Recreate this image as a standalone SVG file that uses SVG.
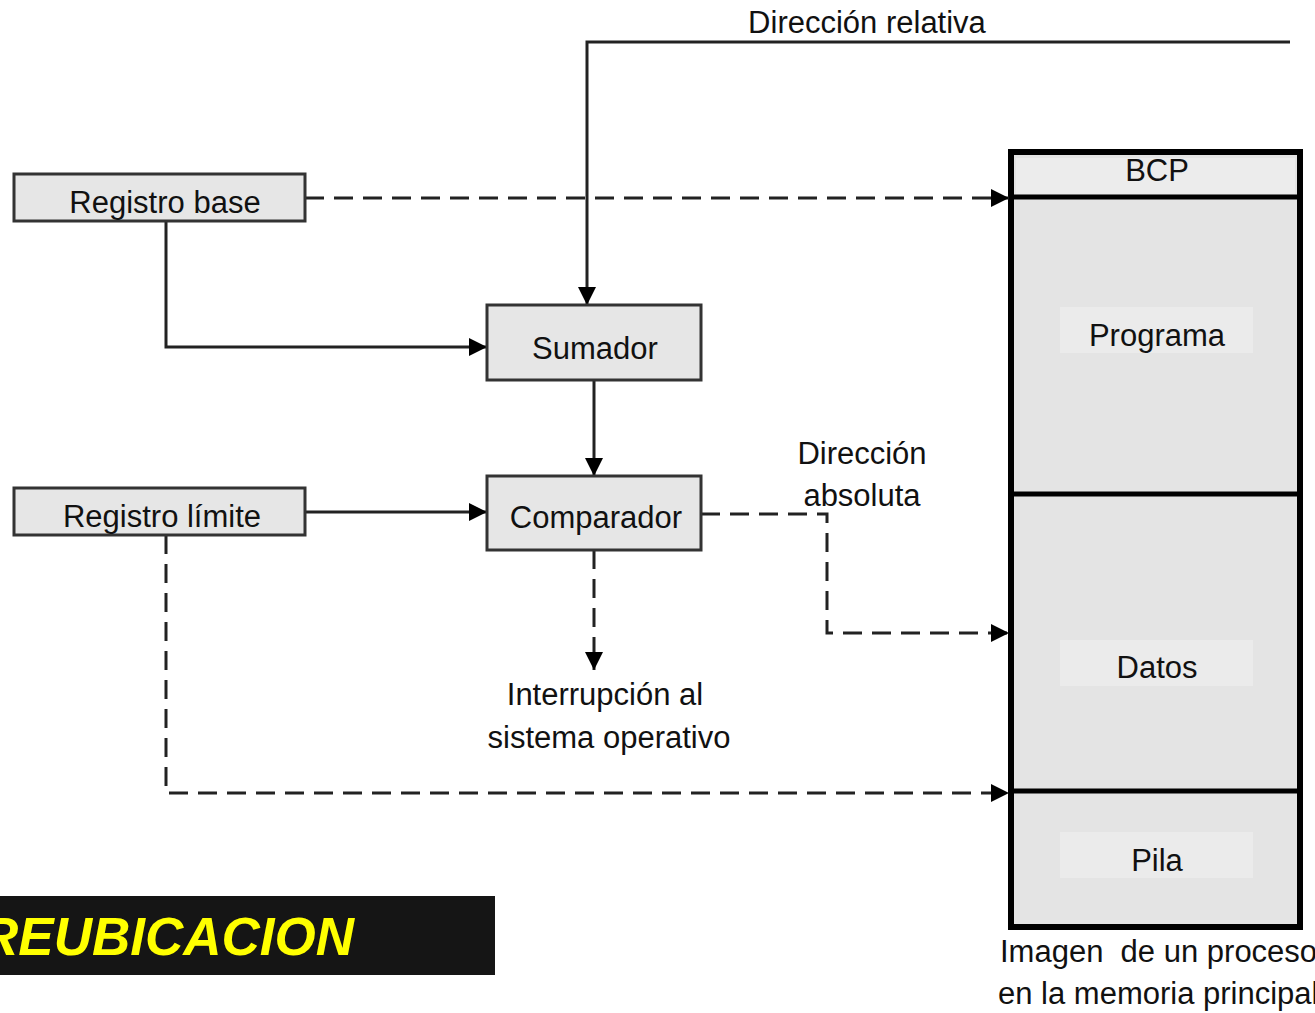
<svg xmlns="http://www.w3.org/2000/svg" width="1315" height="1013" viewBox="0 0 1315 1013">
<style>
  .node { fill: #e6e6e6; stroke: #333; stroke-width: 3; }
  .lbl { font-family: "Liberation Sans", Arial, sans-serif; font-size: 31px; fill: #111; text-anchor: middle; }
  .lblL { font-family: "Liberation Sans", Arial, sans-serif; font-size: 31px; fill: #111; }
  .solid { fill: none; stroke: #222; stroke-width: 3; }
  .dash { fill: none; stroke: #222; stroke-width: 3; stroke-dasharray: 19 10; }
  .mem { fill: #e4e4e4; stroke: #000; stroke-width: 6; }
  .div { stroke: #000; stroke-width: 5; }
  .pad { fill: #ebebeb; }
</style>
<defs>
  <marker id="arr" viewBox="0 0 18 18" refX="18" refY="9" markerWidth="18" markerHeight="18" markerUnits="userSpaceOnUse" orient="auto">
    <path d="M0,0 L18,9 L0,18 z" fill="#000"/>
  </marker>
</defs>
<rect width="1315" height="1013" fill="#fff"/>

<g id="memoria">
  <rect class="mem" x="1011" y="152" width="289" height="775"/>
  <rect x="1016" y="158" width="279" height="36" fill="#ececec"/>
  <line class="div" x1="1011" y1="197" x2="1300" y2="197"/>
  <line class="div" x1="1011" y1="494" x2="1300" y2="494"/>
  <line class="div" x1="1011" y1="791" x2="1300" y2="791"/>
  <rect class="pad" x="1060" y="307" width="193" height="46"/>
  <rect class="pad" x="1060" y="640" width="193" height="46"/>
  <rect class="pad" x="1060" y="832" width="193" height="46"/>
  <text class="lbl" x="1157" y="181">BCP</text>
  <text class="lbl" x="1157" y="346">Programa</text>
  <text class="lbl" x="1157" y="678">Datos</text>
  <text class="lbl" x="1157" y="871">Pila</text>
</g>

<g id="connectors">
  <path class="solid" d="M1290,42 L587,42 L587,305" marker-end="url(#arr)"/>
  <path class="solid" d="M166,221 L166,347 L487,347" marker-end="url(#arr)"/>
  <path class="dash" d="M305,198 L1009,198" marker-end="url(#arr)"/>
  <path class="solid" d="M594,380 L594,476" marker-end="url(#arr)"/>
  <path class="solid" d="M305,512 L487,512" marker-end="url(#arr)"/>
  <path class="dash" d="M701,514 L827,514 L827,633 L1009,633" marker-end="url(#arr)"/>
  <path class="dash" d="M594,550 L594,670" marker-end="url(#arr)"/>
  <path class="dash" d="M166,535 L166,793 L1009,793" marker-end="url(#arr)"/>
</g>

<g id="registro-base">
  <rect class="node" x="14" y="174" width="291" height="47"/>
  <text class="lbl" x="165" y="213">Registro base</text>
</g>
<g id="registro-limite">
  <rect class="node" x="14" y="488" width="291" height="47"/>
  <text class="lbl" x="162" y="527">Registro límite</text>
</g>
<g id="sumador">
  <rect class="node" x="487" y="305" width="214" height="75"/>
  <text class="lbl" x="595" y="359">Sumador</text>
</g>
<g id="comparador">
  <rect class="node" x="487" y="476" width="214" height="74"/>
  <text class="lbl" x="596" y="528">Comparador</text>
</g>

<g id="labels">
  <text class="lbl" x="867" y="33">Dirección relativa</text>
  <text class="lbl" x="862" y="464">Dirección</text>
  <text class="lbl" x="862" y="506">absoluta</text>
  <text class="lbl" x="605" y="705">Interrupción al</text>
  <text class="lbl" x="609" y="748">sistema operativo</text>
  <text class="lblL" x="1000" y="962" xml:space="preserve">Imagen  de un proceso</text>
  <text class="lblL" x="998" y="1004">en la memoria principal</text>
</g>

<g id="titulo">
  <rect x="0" y="896" width="495" height="79" fill="#151515"/>
  <text x="-20" y="955" font-family="'Liberation Sans', Arial, sans-serif" font-size="53" font-weight="bold" font-style="italic" fill="#ffff00">REUBICACION</text>
</g>
</svg>
